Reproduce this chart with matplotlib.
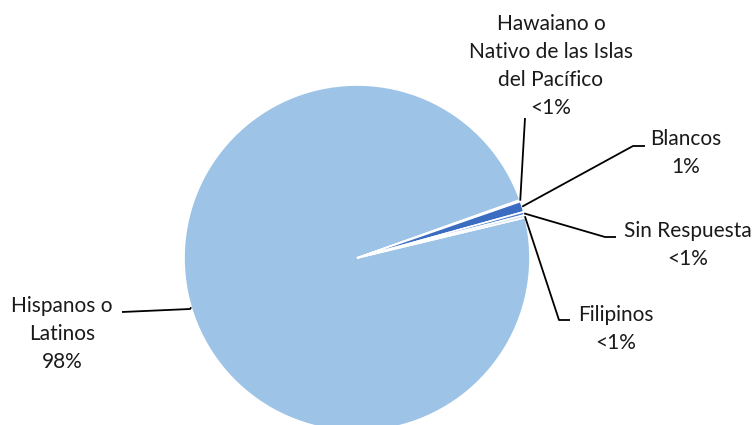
import numpy as np
import matplotlib.pyplot as plt

plt.rcParams['font.family'] = ['Lato', 'DejaVu Sans']

# datos
categorias = ['Hispanos o\nLatinos', 'Hawaiano o\nNativo de las Islas\ndel Pacífico',
              'Blancos', 'Sin Respuesta', 'Filipinos']
valores = [98.3, 0.15, 1.0, 0.3, 0.25]
etiquetas_pct = ['98%', '<1%', '1%', '<1%', '<1%']
colores = ['#9DC3E6', '#DEEBF7', '#3A6CC2', '#4E80CC', '#C9DDF1']

W, H = 754, 425
cx, cy, R = 357, 258, 173  # centro y radio en pixeles

fig = plt.figure(figsize=(W / 100, H / 100), dpi=100)
ax = fig.add_axes([0, 0, 1, 1])
ax.axis('off')

wedges, _ = ax.pie(valores, colors=colores, startangle=13.5, counterclock=False,
                   radius=1, wedgeprops=dict(edgecolor='white', linewidth=1.2))
ax.set_aspect('auto')
ax.set_xlim(-cx / R, (W - cx) / R)
ax.set_ylim(-(H - cy) / R, cy / R)

def px(x, y):
    return (x - cx) / R, (cy - y) / R

# posiciones de las etiquetas (pixeles): texto, codo, extremo de la linea
txt_pos = [(62, 334), (551, 66), (686, 153), (688, 245), (616, 329)]
codo = [(190, 309), (525, 118), (633, 146), (605, 237), (559, 320)]
fin = [(122, 312), (525, 118), (645, 146), (616, 237), (570, 320)]

for w, cat, pct, tp, c, f in zip(wedges, categorias, etiquetas_pct, txt_pos, codo, fin):
    ang = np.deg2rad((w.theta1 + w.theta2) / 2)
    x0, y0 = np.cos(ang), np.sin(ang)
    x1, y1 = px(*c)
    x2, y2 = px(*f)
    ax.plot([x0, x1, x2], [y0, y1, y2], color='black', lw=1.3, solid_capstyle='butt')
    tx, ty = px(*tp)
    ax.text(tx, ty, cat + '\n' + pct, ha='center', va='center', multialignment='center',
            fontsize=15, linespacing=1.5, color='#1a1a1a')

fig.savefig('out.png', dpi=100)
